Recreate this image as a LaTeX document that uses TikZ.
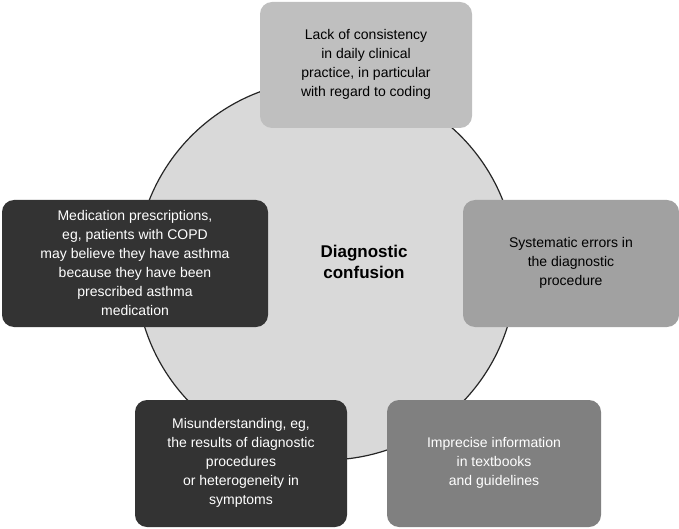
\documentclass[tikz,border=0pt]{standalone}
\usepackage{fontspec}
\setmainfont{Liberation Sans}
\begin{document}
\begin{tikzpicture}[x=1pt,y=-1pt,
  box/.style={rounded corners=12pt,draw=none},
  txt/.style={align=center,font=\fontsize{14}{19}\selectfont}]
\useasboundingbox (0,0) rectangle (679,529);
\node[circle,draw=black!85,line width=1.2pt,fill=black!15,minimum size=380pt,inner sep=0] (c) at (326,270) {};
\node[txt,font=\fontsize{17}{21}\selectfont\bfseries] (dc) at (364,262) {Diagnostic\\confusion};
\fill[box,fill=black!25] (260,2) rectangle (472,128);
\node[txt,text=black] (t) at (366,64) {Lack of consistency\\in daily clinical\\practice, in particular\\with regard to coding};
\fill[box,fill=black!37] (463,200) rectangle (679,327);
\node[txt,text=black] (r) at (571,263) {Systematic errors in\\the diagnostic\\procedure};
\fill[box,fill=black!50] (387,400) rectangle (601,527);
\node[txt,text=white] (br) at (494,463) {Imprecise information\\in textbooks\\and guidelines};
\fill[box,fill=black!80] (135,400) rectangle (347,527);
\node[txt,text=white] (bl) at (241,463) {Misunderstanding, eg,\\the results of diagnostic\\procedures\\or heterogeneity in\\symptoms};
\fill[box,fill=black!80] (2,200) rectangle (268,327);
\node[txt,text=white] (l) at (135,263) {Medication prescriptions,\\eg, patients with COPD\\may believe they have asthma\\because they have been\\prescribed asthma\\medication};
\end{tikzpicture}
\end{document}
